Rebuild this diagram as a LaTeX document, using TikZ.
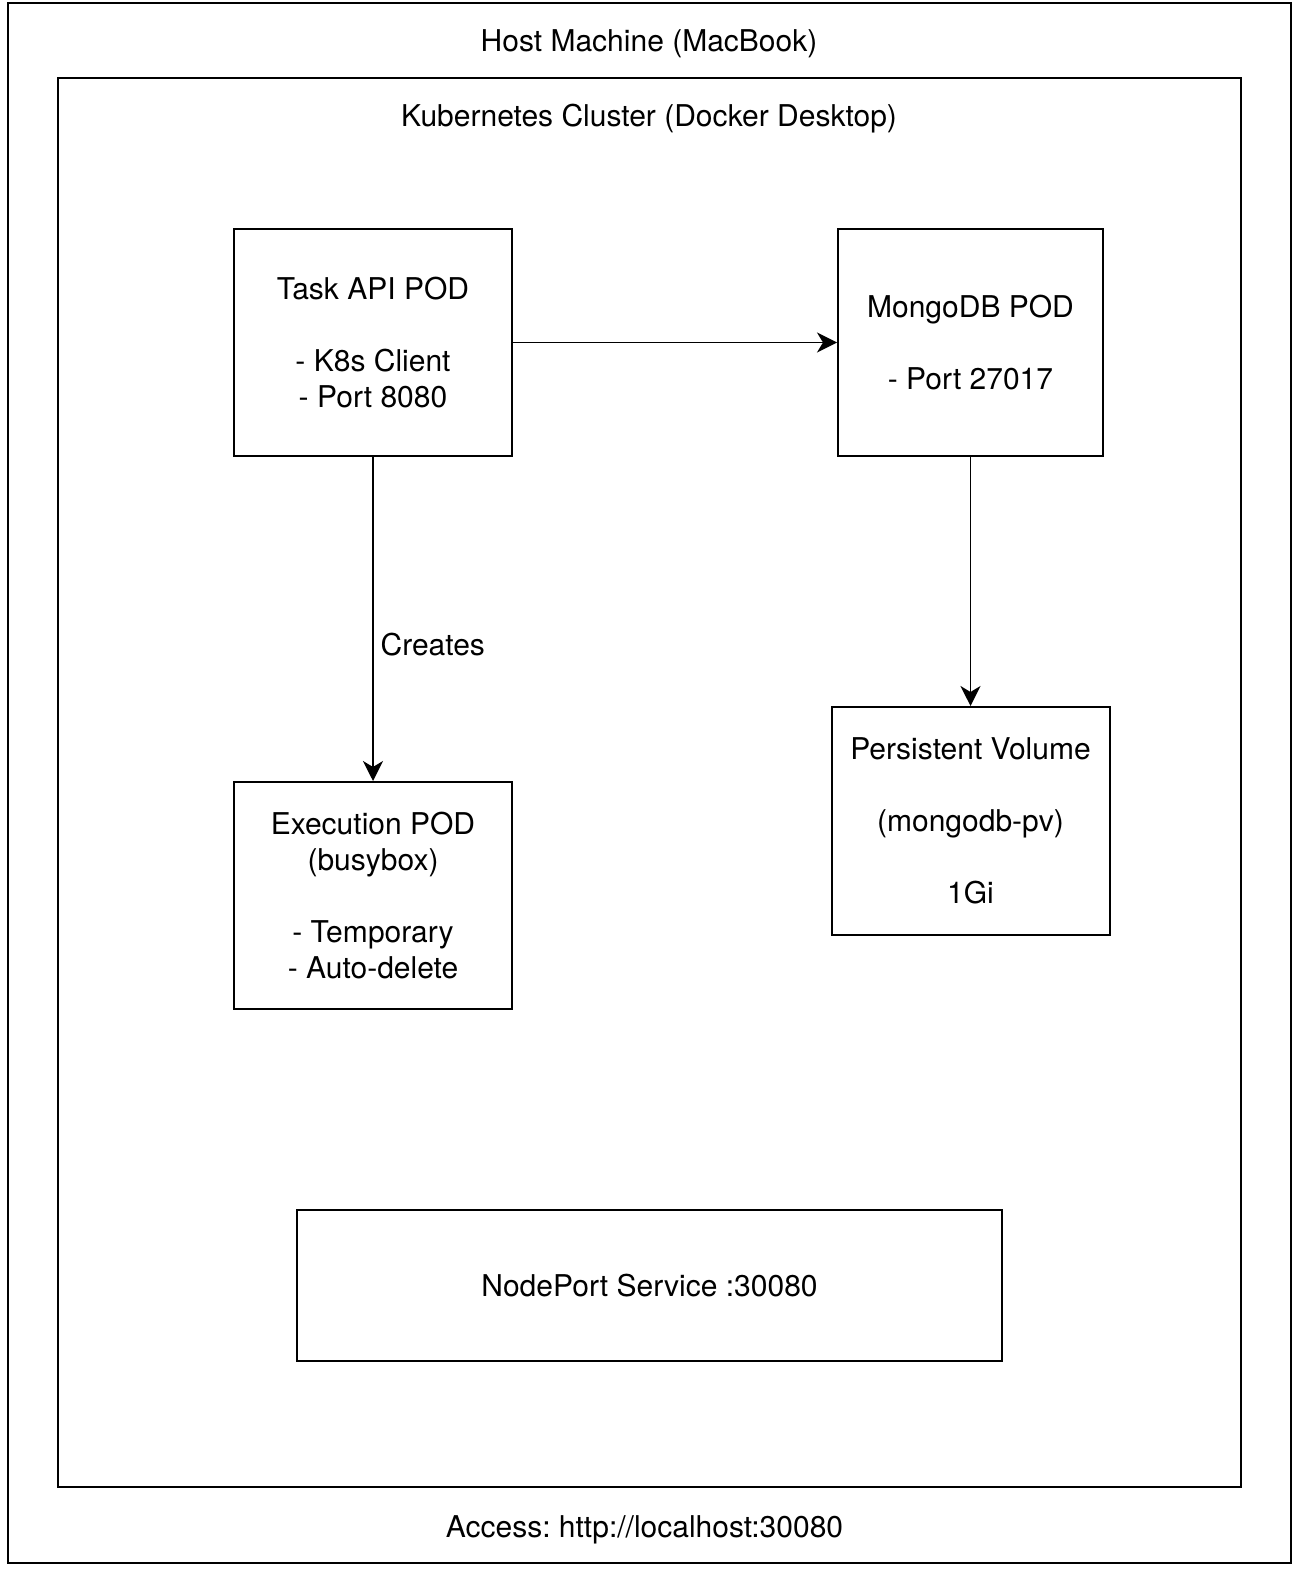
\documentclass[tikz,border=0pt]{standalone}
\usepackage{fontspec}
\setmainfont{TeX Gyre Heros}
\usepackage{tikz}
\usetikzlibrary{arrows.meta,positioning}
\frenchspacing

\begin{document}
\begin{tikzpicture}[x=1pt, y=1pt, >={Stealth[length=10pt,width=10pt,inset=3pt]},
    node distance=2cm, on grid, auto,
    every node/.style={font=\fontsize{15}{18}\selectfont},
    frame/.style={draw, line width=1pt, inner sep=0pt},
    pod/.style={draw, line width=1pt, align=center, minimum width=139pt, minimum height=113.5pt, inner sep=0pt},
    link/.style={->, line width=0.95pt}]
   \useasboundingbox (0,0) rectangle (650,-786);
   \node[frame, minimum width=641.5pt, minimum height=780pt]   (host)    at (324.75,-391.5) {};
   \node[frame, minimum width=591.5pt, minimum height=704.5pt] (cluster) at (324.75,-391.25) {};
   \node (hosttitle)    at (324.5,-22) {Host Machine (MacBook)};
   \node (clustertitle) at (324.5,-59.5) {Kubernetes Cluster (Docker Desktop)};
   \node (access)       at (322.25,-765) {Access: http://localhost:30080};

   \node[pod]                                          (taskapi) at (186.5,-171.25) {Task API POD\\[18pt]- K8s Client\\- Port 8080};
   \node[pod, minimum width=132.5pt] (mongo) [right=298.75pt of taskapi] {MongoDB POD\\[18pt]- Port 27017};
   \node[pod]                        (exec)  [below=276.5pt of taskapi]  {Execution POD\\(busybox)\\[18pt]- Temporary\\- Auto-delete};
   \node[pod, minimum height=114pt]  (pv)    [below=239.25pt of mongo]   {Persistent Volume\\[18pt](mongodb-pv)\\[18pt]1Gi};
   \node[pod, minimum width=352.5pt, minimum height=75.5pt] (nodeport) at (324.75,-642.75) {NodePort Service :30080};

   \path[link]
    (taskapi) edge node[pos=0.58] {Creates} (exec)
              edge (mongo)
    (mongo)   edge (pv);
\end{tikzpicture}
\end{document}
